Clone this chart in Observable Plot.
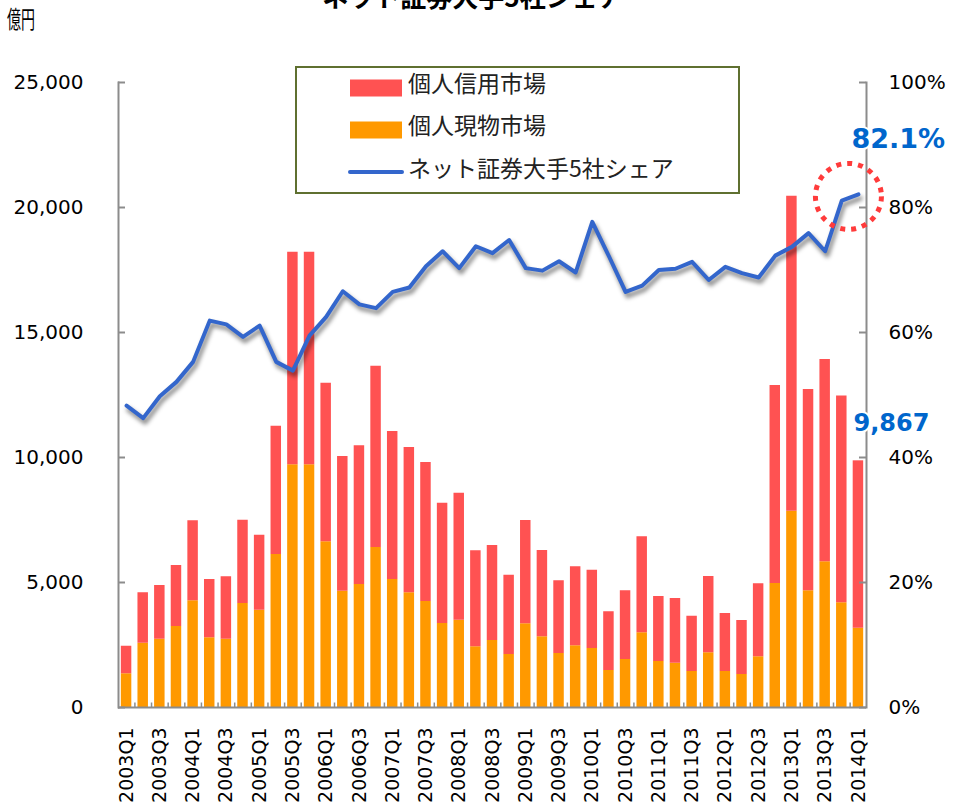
<!DOCTYPE html>
<html>
<head>
<meta charset="utf-8">
<script src="https://cdn.jsdelivr.net/npm/d3@7"></script>
<script src="https://cdn.jsdelivr.net/npm/@observablehq/plot@0.6"></script>
<style>
  html, body { margin: 0; padding: 0; background: #fff; }
  #chart svg { display: block; }
</style>
</head>
<body>
<div id="chart"></div>
<script>
// ---- data ----
const quarters = [
  "2003Q1","2003Q2","2003Q3","2003Q4","2004Q1","2004Q2","2004Q3","2004Q4",
  "2005Q1","2005Q2","2005Q3","2005Q4","2006Q1","2006Q2","2006Q3","2006Q4",
  "2007Q1","2007Q2","2007Q3","2007Q4","2008Q1","2008Q2","2008Q3","2008Q4",
  "2009Q1","2009Q2","2009Q3","2009Q4","2010Q1","2010Q2","2010Q3","2010Q4",
  "2011Q1","2011Q2","2011Q3","2011Q4","2012Q1","2012Q2","2012Q3","2012Q4",
  "2013Q1","2013Q2","2013Q3","2013Q4","2014Q1"
];
// 個人現物市場 (億円)
const cash = [
  1350, 2570, 2730, 3240, 4270, 2790, 2730, 4160,
  3890, 6120, 9710, 9710, 6630, 4650, 4920, 6400,
  5120, 4590, 4240, 3360, 3490, 2430, 2680, 2120,
  3350, 2830, 2160, 2470, 2360, 1480, 1920, 2990,
  1840, 1770, 1440, 2190, 1440, 1320, 2030, 4960,
  7850, 4670, 5830, 4190, 3170
];
// 個人信用市場 (億円)
const credit = [
  1100, 2020, 2150, 2440, 3200, 2330, 2500, 3330,
  3000, 5130, 8500, 8500, 6340, 5390, 5550, 7250,
  5920, 5810, 5560, 4810, 5080, 3840, 3800, 3170,
  4130, 3450, 2910, 3160, 3130, 2350, 2750, 3840,
  2600, 2590, 2210, 3050, 2320, 2160, 2920, 7920,
  12600, 8050, 8090, 8270, 6697
];
// ネット証券大手5社シェア (%)
const share = [
  48.3, 46.3, 49.8, 52.1, 55.3, 61.9, 61.3, 59.3,
  61.1, 55.3, 53.9, 59.5, 62.5, 66.6, 64.5, 63.9,
  66.5, 67.2, 70.6, 73.0, 70.3, 73.8, 72.7, 74.8,
  70.3, 69.9, 71.4, 69.6, 77.7, 72.2, 66.5, 67.5,
  70.0, 70.2, 71.3, 68.4, 70.5, 69.5, 68.8, 72.3,
  73.7, 75.9, 73.0, 81.1, 82.1
];
const seriesNames = ["個人信用市場", "個人現物市場", "ネット証券大手5社シェア"];
const seriesColors = ["#FF5252", "#FF9900", "#3366CC"];
const leftTicks = [0, 5000, 10000, 15000, 20000, 25000];
const rightTickLabels = ["0%", "20%", "40%", "60%", "80%", "100%"];
const xTickLabels = quarters.filter((d, i) => i % 2 === 0);
const titleText = "ネット証券大手5社シェア";
const unitText = "億円";

// ---- derived tables ----
const pctToLeft = 25000 / 100;
const barRows = quarters.flatMap((q, i) => [
  {q, series: seriesNames[1], v: cash[i]},
  {q, series: seriesNames[0], v: credit[i]}
]);
const lineRows = quarters.map((q, i) => ({q, y: share[i] * pctToLeft, share: share[i], total: cash[i] + credit[i]}));
const last = [lineRows[lineRows.length - 1]];

const numFont = "DejaVu Sans, Verdana, sans-serif";
const jpFont = "'Noto Sans CJK JP', 'Noto Sans', sans-serif";
const gray = "#8c8c8c";

const chart = Plot.plot({
  width: 956,
  height: 807,
  marginLeft: 118,
  marginRight: 90,
  marginTop: 82,
  marginBottom: 100,
  style: {fontFamily: numFont, color: "#000", background: "#fff"},
  x: {type: "band", domain: quarters, paddingInner: 0.37, paddingOuter: 0.17, round: false, label: null},
  y: {domain: [0, 25000], label: null},
  color: {domain: seriesNames.slice(0, 2), range: seriesColors.slice(0, 2)},
  marks: [
    Plot.barY(barRows, {x: "q", y: "v", fill: "series"}),
    // axis lines
    Plot.frame({anchor: "left", stroke: gray, strokeWidth: 2}),
    Plot.frame({anchor: "right", stroke: gray, strokeWidth: 2}),
    Plot.ruleY([0], {stroke: gray, strokeWidth: 2}),
    // inward ticks
    Plot.ruleY(leftTicks, {stroke: gray, strokeWidth: 2, insetRight: 741}),
    Plot.ruleY(leftTicks, {stroke: gray, strokeWidth: 2, insetLeft: 741}),
    Plot.ruleX(quarters.slice(1), {x: d => d, y1: 0, y2: 180, dx: -8.3, stroke: gray, strokeWidth: 1.5}),
    // axes labels
    Plot.axisY({anchor: "left", ticks: leftTicks, tickSize: 0, tickPadding: 35, tickFormat: d3.format(","), fontSize: 20, label: null}),
    Plot.axisY({anchor: "right", ticks: leftTicks, tickSize: 0, tickPadding: 22, tickFormat: d => rightTickLabels[leftTicks.indexOf(d)], fontSize: 20, label: null}),
    Plot.axisX({ticks: xTickLabels, tickRotate: -90, tickSize: 0, tickPadding: 20, fontSize: 19, label: null}),
    // share line with shadow
    Plot.line(lineRows, {x: "q", y: "y", stroke: "#000", strokeOpacity: 0.45, strokeWidth: 4.5, dx: 2, dy: 4}),
    Plot.line(lineRows, {x: "q", y: "y", stroke: seriesColors[2], strokeWidth: 4}),
    // highlight circle
    Plot.dot(last, {x: "q", y: "y", r: 33, dx: -10, dy: 2, fill: "none", stroke: "#FF3B3B", strokeWidth: 5, strokeDasharray: "5 6"}),
    // annotations
    Plot.text(last, {x: "q", y: "y", text: d => d3.format(".1f")(d.share) + "%", textAnchor: "start", dx: -7, dy: -55, fontSize: 27, fontWeight: "bold", fill: "#0066CC", stroke: "#fff", strokeWidth: 4}),
    Plot.text(last, {x: "q", y: "total", text: d => d3.format(",")(d.total), textAnchor: "start", dx: -5, dy: -38, fontSize: 24, fontWeight: "bold", fill: "#0066CC", stroke: "#fff", strokeWidth: 4})
  ]
});

document.getElementById("chart").appendChild(chart);

// shadow blur on the first line mark
const svg = d3.select(chart);
const defs = svg.insert("defs", ":first-child");
defs.append("filter").attr("id", "blurShadow").attr("x", "-5%").attr("y", "-20%").attr("width", "110%").attr("height", "140%")
  .append("feGaussianBlur").attr("stdDeviation", 2.2);
svg.selectAll("g[aria-label='line']").filter((d, i) => i === 0).attr("filter", "url(#blurShadow)");

// title (cut off at top, as in the source) and unit
svg.append("text").attr("x", 473).attr("y", 7).attr("text-anchor", "middle")
  .attr("font-family", jpFont).attr("font-size", 26).attr("font-weight", "bold").attr("fill", "#000").text(titleText);
svg.append("text").attr("x", 7).attr("y", 28).attr("text-anchor", "start").attr("font-family", jpFont).attr("font-size", 24)
  .attr("textLength", 28).attr("lengthAdjust", "spacingAndGlyphs").attr("fill", "#000").text(unitText);

// legend
const lg = svg.append("g");
lg.append("rect").attr("x", 296).attr("y", 67).attr("width", 443).attr("height", 126)
  .attr("fill", "#fff").attr("stroke", "#5f7030").attr("stroke-width", 2);
seriesNames.forEach((name, i) => {
  const color = seriesColors[i];
  const cy = [88, 130, 172][i];
  if (i < 2) {
    lg.append("rect").attr("x", 350).attr("y", cy - 8.5).attr("width", 52).attr("height", 17).attr("fill", color);
  } else {
    lg.append("line").attr("x1", 350).attr("x2", 402).attr("y1", cy).attr("y2", cy)
      .attr("stroke", color).attr("stroke-width", 4).attr("stroke-linecap", "round");
  }
  lg.append("text").attr("x", 408).attr("y", [92, 134, 177][i]).attr("text-anchor", "start")
    .attr("font-family", jpFont).attr("font-size", 23).attr("fill", "#222").text(name);
});
</script>
</body>
</html>
